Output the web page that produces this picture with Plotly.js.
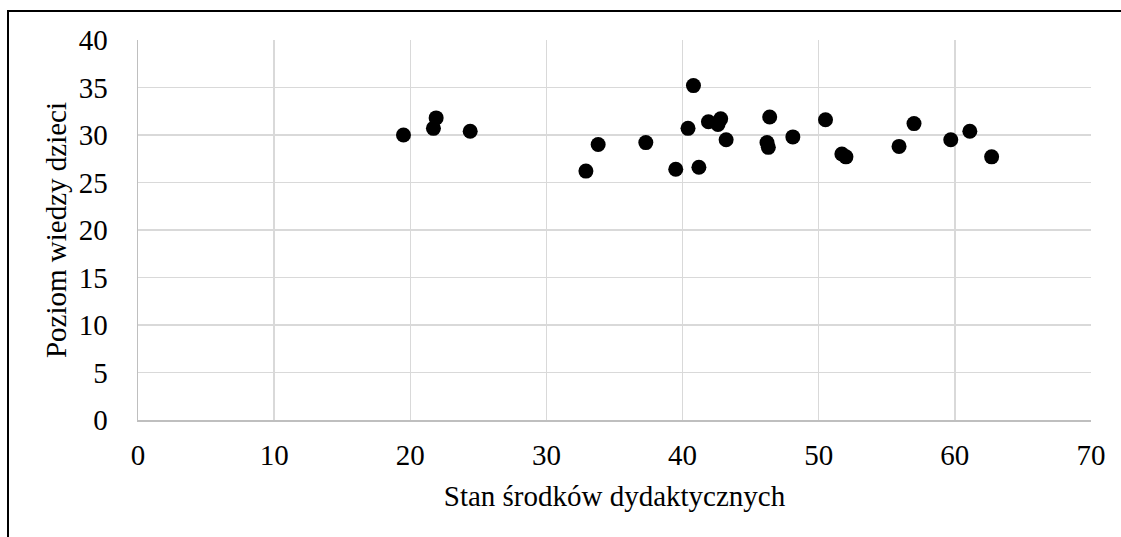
<!DOCTYPE html>
<html>
<head>
<meta charset="utf-8">
<script src="https://cdn.plot.ly/plotly-3.0.1.min.js"></script>
<style>
  html, body { margin: 0; padding: 0; background: #fff; }
  #wrap { position: relative; width: 1121px; height: 537px; overflow: hidden; }
  #chart { width: 1121px; height: 537px; }
  #frame { position: absolute; left: 7px; top: 10px; width: 1200px; height: 600px;
           border-top: 2px solid #000; border-left: 2px solid #000; pointer-events: none; }
</style>
</head>
<body>
<div id="wrap">
  <div id="chart"></div>
  <div id="frame"></div>
</div>
<script>
// Stan środków dydaktycznych (x) vs poziom wiedzy dzieci (y)
const stanSrodkow = [19.5, 21.7, 21.9, 24.4, 32.9, 33.8, 37.3, 40.8, 39.5, 40.4, 41.2, 41.9,
  42.6, 42.8, 43.2, 46.4, 46.2, 46.3, 48.1, 50.5, 51.7, 52.0, 55.9, 57.0, 59.7, 61.1, 62.7];
const poziomWiedzy = [30.0, 30.7, 31.8, 30.4, 26.2, 29.0, 29.2, 35.2, 26.4, 30.7, 26.6, 31.4,
  31.1, 31.7, 29.5, 31.9, 29.2, 28.7, 29.8, 31.6, 28.0, 27.7, 28.8, 31.2, 29.5, 30.4, 27.7];

const xTicks = [0, 10, 20, 30, 40, 50, 60, 70];
const yTicks = [0, 5, 10, 15, 20, 25, 30, 35, 40];

// fresh font object for every use
function serif() {
  return { family: 'Liberation Serif', size: 29, color: '#000000' };
}

Plotly.newPlot('chart', [{
  type: 'scatter',
  mode: 'markers',
  x: stanSrodkow,
  y: poziomWiedzy,
  marker: { color: '#000', size: 15, line: { width: 0 } },
  hoverinfo: 'x+y'
}], {
  width: 1121,
  height: 537,
  margin: { l: 138, r: 30, t: 40, b: 117 },
  paper_bgcolor: '#fff',
  plot_bgcolor: '#fff',
  showlegend: false,
  font: serif(),
  xaxis: {
    range: [0, 70],
    tickvals: xTicks,
    ticktext: xTicks.map(String),
    showgrid: true,
    gridcolor: '#d9d9d9',
    gridwidth: 1.5,
    zeroline: false,
    showline: true,
    linecolor: '#bfbfbf',
    linewidth: 1.5,
    ticks: '',
    ticklabelstandoff: 9,
    tickfont: serif(),
    automargin: false,
    title: { text: 'Stan środków dydaktycznych', font: serif(), standoff: 15 }
  },
  yaxis: {
    range: [0, 40],
    tickvals: yTicks,
    ticktext: yTicks.map(String),
    showgrid: true,
    gridcolor: '#d9d9d9',
    gridwidth: 1.5,
    zeroline: false,
    showline: true,
    linecolor: '#bfbfbf',
    linewidth: 1.5,
    ticks: '',
    ticklabelstandoff: 23,
    tickfont: serif(),
    automargin: false,
    title: { text: 'Poziom wiedzy dzieci', font: serif(), standoff: 3 }
  }
}, { staticPlot: true });
</script>
</body>
</html>
